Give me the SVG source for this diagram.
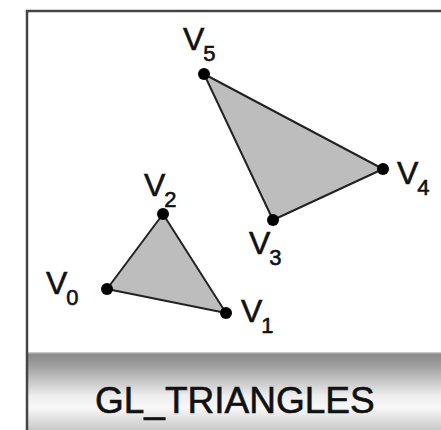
<svg xmlns="http://www.w3.org/2000/svg" width="441" height="430" viewBox="0 0 441 430">
<style>
.lbl{font-family:"Liberation Sans",Arial,sans-serif;font-size:32px;fill:#111;stroke:#111;stroke-width:0.6}
.sub{font-size:22px}
.dot{fill:#000}
.tri{fill:#bdbdbd;stroke:#222;stroke-width:2;stroke-linejoin:round}
.title{font-family:"Liberation Sans",Arial,sans-serif;font-size:37px;fill:#111;stroke:#111;stroke-width:0.6}
</style>
<defs>
<linearGradient id="band" x1="0" y1="0" x2="0" y2="1">
<stop offset="0" stop-color="#d8d8d8"/>
<stop offset="0.03" stop-color="#8a8a8a"/>
<stop offset="0.2" stop-color="#a4a4a4"/>
<stop offset="0.55" stop-color="#eeeeee"/>
<stop offset="0.7" stop-color="#f8f8f8"/>
<stop offset="1" stop-color="#c4c4c4"/>
</linearGradient>
</defs>
<rect x="0" y="0" width="441" height="430" fill="#fff"/>
<rect x="27" y="352" width="420" height="80" fill="url(#band)"/>
<path d="M27,432 V11 H445" fill="none" stroke="#444" stroke-width="2.5"/>
<g id="connectors">
<polygon class="tri" points="107,289 226,313 163,214"/>
<polygon class="tri" points="273,220 383,169 204,74"/>
</g>
<g id="v0"><circle class="dot" cx="107" cy="289" r="6"/><text class="lbl" x="46" y="294">V<tspan class="sub" dx="-1" dy="11">0</tspan></text></g>
<g id="v1"><circle class="dot" cx="226" cy="313" r="6"/><text class="lbl" x="241" y="322">V<tspan class="sub" dx="-1" dy="11">1</tspan></text></g>
<g id="v2"><circle class="dot" cx="163" cy="214" r="6"/><text class="lbl" x="144" y="196">V<tspan class="sub" dx="-1" dy="11">2</tspan></text></g>
<g id="v3"><circle class="dot" cx="273" cy="220" r="6"/><text class="lbl" x="249" y="254">V<tspan class="sub" dx="-1" dy="11">3</tspan></text></g>
<g id="v4"><circle class="dot" cx="383" cy="169" r="6"/><text class="lbl" x="397" y="184">V<tspan class="sub" dx="-1" dy="11">4</tspan></text></g>
<g id="v5"><circle class="dot" cx="204" cy="74" r="6"/><text class="lbl" x="183" y="50">V<tspan class="sub" dx="-1" dy="11">5</tspan></text></g>
<g id="title"><text class="title" x="95" y="413">GL_TRIANGLES</text></g>
</svg>
